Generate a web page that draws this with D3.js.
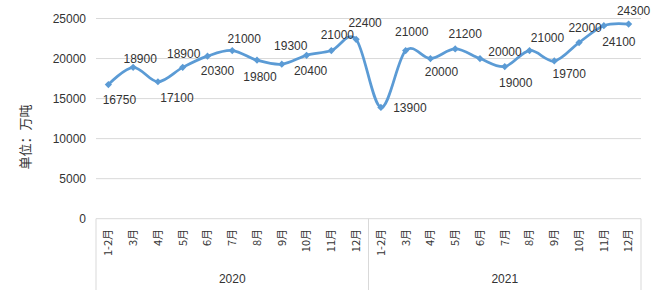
<!DOCTYPE html>
<html>
<head>
<meta charset="utf-8">
<script src="https://cdn.jsdelivr.net/npm/d3@7"></script>
<style>
  body { margin: 0; background: #fff; }
  text { font-family: "Liberation Sans", Arial, sans-serif; fill: #333; }
  .cjk { font-family: "Noto Sans CJK SC", sans-serif; }
</style>
</head>
<body>
<svg id="chart" width="662" height="303"></svg>
<script>
// data
const years = ["2020", "2021"];
const months = ["1-2月", "3月", "4月", "5月", "6月", "7月", "8月", "9月", "10月", "11月", "12月"];
const values2020 = [16750, 18900, 17100, 18900, 20300, 21000, 19800, 19300, 20400, 21000, 22400];
const values2021 = [13900, 21000, 20000, 21200, 20000, 19000, 21000, 19700, 22000, 24100, 24300];
const yTicks = [0, 5000, 10000, 15000, 20000, 25000];

// where each value label sits next to its point (dx, dy in px)
const labelOffsets = [
  [11, 15], [7, -9], [19, 16], [1, -14], [10, 15], [12, -12], [3, 17], [9, -18], [4, 15], [6, -16], [9, -17],
  [29, 0], [6, -19], [11, 13], [10, -15], [25, -7], [11, 16], [18, -13], [15, 13], [6, -15], [15, 16], [5, -13]
];

const data = [];
years.forEach((yr, yi) => {
  const vals = yi == 0 ? values2020 : values2021;
  months.forEach((m, mi) => {
    data.push({key: yr + "-" + m, year: yr, month: m, value: vals[mi]});
  });
});

const svg = d3.select("#chart");
const plotLeft = 96, plotRight = 641, plotTop = 18.5, plotBottom = 218.7;

const x = d3.scaleBand()
  .domain(data.map(d => d.key))
  .range([plotLeft, plotRight]);
const y = d3.scaleLinear()
  .domain([0, 25000])
  .range([plotBottom, plotTop]);

// grid
svg.append("g")
  .selectAll("line")
  .data(yTicks)
  .join("line")
  .attr("x1", plotLeft).attr("x2", plotRight)
  .attr("y1", d => y(d)).attr("y2", d => y(d))
  .attr("stroke", "#d9d9d9")
  .attr("stroke-width", 1);

svg.append("g")
  .selectAll("text")
  .data(yTicks)
  .join("text")
  .attr("x", 86)
  .attr("y", d => y(d))
  .attr("dy", "0.35em")
  .attr("text-anchor", "end")
  .attr("font-size", 12)
  .text(d => d);

// year separators
const sepX = [plotLeft, x(years[1] + "-" + months[0]), plotRight];
svg.append("g")
  .selectAll("line")
  .data(sepX)
  .join("line")
  .attr("x1", d => d).attr("x2", d => d)
  .attr("y1", plotBottom).attr("y2", 290)
  .attr("stroke", "#d9d9d9");

// month labels
svg.append("g")
  .selectAll("text")
  .data(data)
  .join("text")
  .attr("class", "cjk")
  .attr("transform", d => `translate(${x(d.key) + x.bandwidth() / 2},229) rotate(-90)`)
  .attr("text-anchor", "end")
  .attr("dy", "0.35em")
  .attr("font-size", 11)
  .text(d => d.month);

// year labels
svg.append("g")
  .selectAll("text")
  .data(years)
  .join("text")
  .attr("x", (d, i) => (sepX[i] + sepX[i + 1]) / 2)
  .attr("y", 279)
  .attr("dy", "0.35em")
  .attr("text-anchor", "middle")
  .attr("font-size", 12)
  .text(d => d);

// axis title
svg.append("text")
  .attr("class", "cjk")
  .attr("transform", "translate(25,137) rotate(-90)")
  .attr("text-anchor", "middle")
  .attr("dy", "0.35em")
  .attr("font-size", 13)
  .text("单位：万吨");

// line
const line = d3.line()
  .x(d => x(d.key) + x.bandwidth() / 2)
  .y(d => y(d.value))
  .curve(d3.curveCardinal.tension(0));

svg.append("path")
  .datum(data)
  .attr("d", line)
  .attr("fill", "none")
  .attr("stroke", "#5b9bd5")
  .attr("stroke-width", 2.75)
  .attr("stroke-linejoin", "round");

svg.append("g")
  .selectAll("path")
  .data(data)
  .join("path")
  .attr("d", d3.symbol(d3.symbolSquare, 26))
  .attr("transform", d => `translate(${x(d.key) + x.bandwidth() / 2},${y(d.value)}) rotate(45)`)
  .attr("fill", "#5b9bd5");

// value labels
svg.append("g")
  .selectAll("text")
  .data(data)
  .join("text")
  .attr("x", (d, i) => x(d.key) + x.bandwidth() / 2 + labelOffsets[i][0])
  .attr("y", (d, i) => y(d.value) + labelOffsets[i][1])
  .attr("dy", "0.35em")
  .attr("text-anchor", "middle")
  .attr("font-size", 12)
  .text(d => d.value);
</script>
</body>
</html>
